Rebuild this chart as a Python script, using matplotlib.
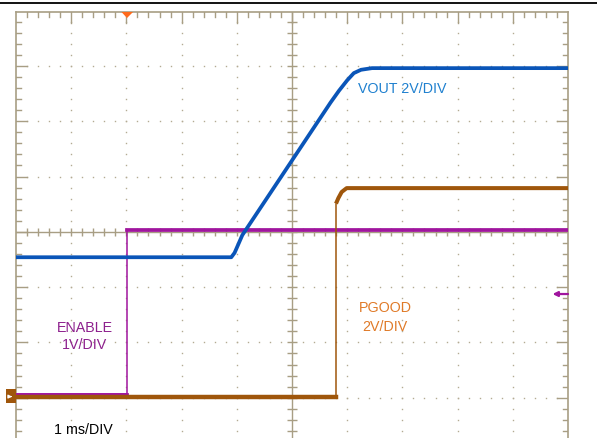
import matplotlib
matplotlib.use("Agg")
import matplotlib.pyplot as plt
from matplotlib.patches import Polygon, Rectangle
import numpy as np

# ---- data (oscilloscope divisions: x = time div, y = vertical div from screen bottom)
enable_t = [0.0, 2.01, 2.01, 10.0]
enable_v = [1.07, 1.07, 4.03, 4.03]

pgood_t = [0.0, 5.797, 5.797, 5.84, 5.90, 5.99, 10.0]
pgood_v = [1.02, 1.02, 4.51, 4.61, 4.72, 4.79, 4.79]

vout_t = [0.0, 3.90, 3.96, 4.03, 4.10, 4.60, 5.00, 5.40, 5.70, 5.85, 6.00, 6.12, 6.25, 6.45, 10.0]
vout_v = [3.54, 3.54, 3.62, 3.78, 3.94, 4.69, 5.29, 5.89, 6.34, 6.55, 6.74, 6.87, 6.93, 6.96, 6.96]

labels = {"vout": "VOUT 2V/DIV", "enable": "ENABLE\n1V/DIV", "pgood": "PGOOD\n2V/DIV", "time": "1 ms/DIV"}

W, H = 597, 438
fig = plt.figure(figsize=(W / 100, H / 100), dpi=100)
fig.patch.set_facecolor("white")

L, R, T, B = 16, 568, 12, 438
ax = fig.add_axes([L / W, 1 - B / H, (R - L) / W, (B - T) / H])
ymin = (453 - 438) / 55.3
ax.set_xlim(0, 10)
ax.set_ylim(ymin, 7.975)
ax.set_xticks([])
ax.set_yticks([])
ax.spines["bottom"].set_visible(False)
border_c = "#a89e84"
for s in ["left", "right", "top"]:
    ax.spines[s].set_color(border_c)
    ax.spines[s].set_linewidth(1.2)

grid_c = "#b3ab93"
# dotted grid
minor = np.round(np.arange(0.2, 10.0, 0.2), 6)
ymin_k = np.round(np.arange(0.2, 8.0, 0.2), 6)
for xm in range(1, 10):
    if xm == 5:
        continue
    ax.plot(np.full(len(ymin_k), xm), ymin_k, ls="none", marker="s", ms=1.0, mew=0, color=grid_c, zorder=1)
for ym in range(1, 8):
    if ym == 4:
        continue
    ax.plot(minor, np.full(len(minor), ym), ls="none", marker="s", ms=1.0, mew=0, color=grid_c, zorder=1)

# center cross with ticks
ax.axvline(5, color=border_c, lw=1.0, zorder=1)
ax.axhline(4, color=border_c, lw=1.0, zorder=1)
ax.hlines(ymin_k, 5 - 0.09, 5 + 0.09, color=border_c, lw=1.0, zorder=1)
ax.vlines(minor, 4 - 0.072, 4 + 0.072, color=border_c, lw=1.0, zorder=1)

# border ticks
for x in minor:
    ln = 0.2 if abs(x - round(x)) < 1e-6 else 0.082
    ax.plot([x, x], [7.975, 7.975 - ln], color=border_c, lw=1.0, zorder=1)
for y in ymin_k:
    ln = 0.2 if abs(y - round(y)) < 1e-6 else 0.09
    ax.plot([0, ln], [y, y], color=border_c, lw=1.0, zorder=1)
    ax.plot([10, 10 - ln], [y, y], color=border_c, lw=1.0, zorder=1)

# traces
purple = "#a0159e"
brown = "#9f560b"
blue = "#0a55b8"
ax.plot(enable_t, enable_v, color=purple, lw=1.1, zorder=3, solid_joinstyle="miter")
ax.plot(enable_t[:2], enable_v[:2], color=purple, lw=2.0, zorder=3)
ax.plot(enable_t[2:], enable_v[2:], color=purple, lw=2.7, zorder=3)

ax.plot(pgood_t[:3], pgood_v[:3], color=brown, lw=1.1, zorder=4)
ax.plot(pgood_t[:2], pgood_v[:2], color=brown, lw=3.2, zorder=4)
ax.plot(pgood_t[2:], pgood_v[2:], color=brown, lw=2.9, zorder=4, solid_capstyle="butt")

ax.plot(vout_t, vout_v, color=blue, lw=2.7, zorder=5)

# markers
trig = Polygon([(1.911, 7.975), (2.120, 7.975), (2.011, 7.866)], closed=True,
               facecolor="#ff6a1c", edgecolor="none", zorder=6, clip_on=False)
ax.add_patch(trig)
gnd = Rectangle((-0.181, (453 - 403) / 55.3), 0.181, 14 / 55.3, facecolor=brown,
                edgecolor="none", zorder=6, clip_on=False)
ax.add_patch(gnd)
ax.annotate("", xy=(-0.02, 1.02), xytext=(-0.15, 1.02),
            arrowprops=dict(arrowstyle="-|>", color="white", lw=0.9, mutation_scale=5),
            annotation_clip=False, zorder=7)
ax.annotate("", xy=(9.72, 2.875), xytext=(10.0, 2.875),
            arrowprops=dict(arrowstyle="-|>", color=purple, lw=1.6, mutation_scale=7,
                            shrinkA=0, shrinkB=0),
            annotation_clip=False, zorder=7)

# black top line
fig.add_artist(plt.Line2D([0, 1], [1 - 3.4 / H, 1 - 3.4 / H], color="black", lw=1.3))

fam = ["Liberation Sans", "DejaVu Sans"]
fs = 10.3
def ftxt(px, py, s, color, ha="left"):
    fig.text(px / W, 1 - py / H, s, color=color, fontsize=fs, family=fam, ha=ha, va="baseline")

ftxt(358, 93, labels["vout"], "#1f80cf")
en1, en2 = labels["enable"].split("\n")
ftxt(85, 332, en1, "#8d208d", ha="center")
ftxt(85, 349, en2, "#8d208d", ha="center")
pg1, pg2 = labels["pgood"].split("\n")
ftxt(385, 312, pg1, "#e07a28", ha="center")
ftxt(385, 331, pg2, "#e07a28", ha="center")
ftxt(54, 434, labels["time"], "black")

fig.savefig("out.png", dpi=100, facecolor="white")
